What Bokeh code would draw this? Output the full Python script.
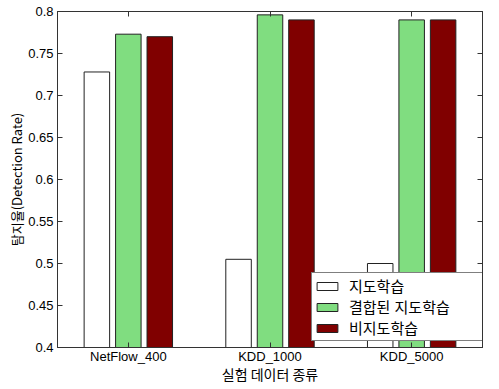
from bokeh.plotting import figure
from bokeh.models import FixedTicker, LinearAxis, Legend, LegendItem, Range1d, ColumnDataSource, CustomJSTickFormatter
from bokeh.transform import dodge
from bokeh.embed import file_html
from bokeh.resources import INLINE

# ---- data ----
x_pos = [1, 2, 3]
categories = ["NetFlow_400", "KDD_1000", "KDD_5000"]
supervised = [0.728, 0.505, 0.500]      # 지도학습
combined = [0.773, 0.796, 0.790]        # 결합된 지도학습
unsupervised = [0.770, 0.790, 0.790]    # 비지도학습
series_names = ["지도학습", "결합된 지도학습", "비지도학습"]
y_ticks = [0.4, 0.45, 0.5, 0.55, 0.6, 0.65, 0.7, 0.75, 0.8]
y_tick_labels = ["0.4", "0.45", "0.5", "0.55", "0.6", "0.65", "0.7", "0.75", "0.8"]
x_label = "실험 데이터 종류"
y_label = "탐지율(Detection Rate)"

AXIS_COLOR = "#333333"
TICK_FONT = "Liberation Sans"
KR_FONT = "Noto Sans CJK KR"

p = figure(width=483, height=386,
           x_range=Range1d(0.5, 3.5), y_range=Range1d(y_ticks[0], y_ticks[-1]),
           output_backend="svg", toolbar_location=None, title=None,
           min_border_left=57, min_border_right=1, min_border_top=11, min_border_bottom=32)
p.xgrid.visible = False
p.ygrid.visible = False
p.outline_line_color = AXIS_COLOR
p.outline_line_width = 1
p.background_fill_color = "white"
p.border_fill_color = "white"

src = ColumnDataSource(dict(x=x_pos, sup=supervised, comb=combined, unsup=unsupervised))
off = 0.222
bw = 0.18
r1 = p.vbar(x=dodge("x", -off, range=p.x_range), top="sup", bottom=y_ticks[0], width=bw,
            fill_color="white", line_color="#222222", line_width=1, source=src)
r2 = p.vbar(x=dodge("x", 0, range=p.x_range), top="comb", bottom=y_ticks[0], width=bw,
            fill_color="#80DD80", line_color="#222222", line_width=1, source=src)
r3 = p.vbar(x=dodge("x", off, range=p.x_range), top="unsup", bottom=y_ticks[0], width=bw,
            fill_color="#800000", line_color="#222222", line_width=1, source=src)

def style_axis(ax):
    ax.axis_line_color = AXIS_COLOR
    ax.major_tick_line_color = AXIS_COLOR
    ax.major_tick_in = 5
    ax.major_tick_out = 0
    ax.minor_tick_line_color = None
    ax.major_label_text_font = TICK_FONT
    ax.major_label_text_font_size = "13px"
    ax.major_label_text_color = "black"
    ax.major_label_standoff = 4

xa = p.xaxis[0]
style_axis(xa)
xa.ticker = FixedTicker(ticks=x_pos)
xa.major_label_overrides = {x: c for x, c in zip(x_pos, categories)}
xa.major_label_standoff = 1
xa.axis_label = x_label
xa.axis_label_text_font = KR_FONT
xa.axis_label_text_font_size = "14px"
xa.axis_label_text_font_style = "normal"
xa.axis_label_text_color = "black"
xa.axis_label_text_line_height = 1.0
xa.axis_label_standoff = -3

ya = p.yaxis[0]
style_axis(ya)
ya.ticker = FixedTicker(ticks=y_ticks)
ya.major_label_overrides = {t: l for t, l in zip(y_ticks, y_tick_labels)}
ya.axis_label = y_label
ya.axis_label_text_font = KR_FONT
ya.axis_label_text_font_size = "13px"
ya.axis_label_text_font_style = "normal"
ya.axis_label_text_color = "black"
ya.axis_label_standoff = -1

blank = CustomJSTickFormatter(code="return ''")

top_ax = LinearAxis(ticker=FixedTicker(ticks=x_pos), formatter=blank)
style_axis(top_ax)
top_ax.major_label_standoff = 0
p.add_layout(top_ax, "above")

right_ax = LinearAxis(ticker=FixedTicker(ticks=y_ticks), formatter=blank)
style_axis(right_ax)
right_ax.major_label_standoff = 0
p.add_layout(right_ax, "right")

legend = Legend(items=[LegendItem(label=series_names[0], renderers=[r1]),
                       LegendItem(label=series_names[1], renderers=[r2]),
                       LegendItem(label=series_names[2], renderers=[r3])],
                location=(254, 6))
legend.border_line_color = "black"
legend.border_line_width = 1
legend.background_fill_color = "white"
legend.background_fill_alpha = 1
legend.padding = 2
legend.spacing = 0
legend.margin = 0
legend.label_height = 16
legend.glyph_height = 10
legend.glyph_width = 26
legend.label_standoff = 9
legend.label_width = 136
legend.label_text_font = "'Liberation Sans', 'Noto Sans CJK KR'"
legend.label_text_font_size = "15px"
legend.label_text_line_height = 0.8
legend.label_text_color = "black"
p.add_layout(legend)

open("out.html", "w").write(file_html(p, INLINE))
